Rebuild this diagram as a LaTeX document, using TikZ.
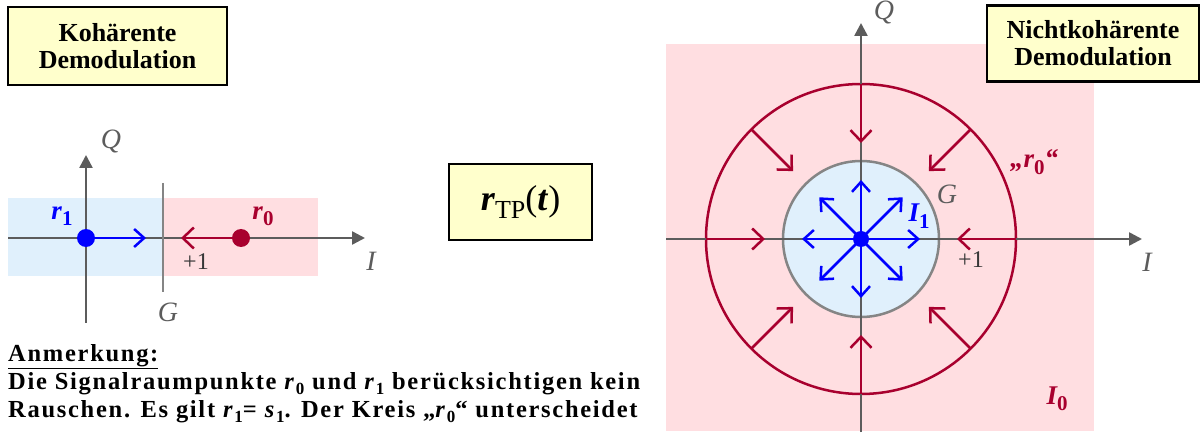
\documentclass[tikz,border=0pt]{standalone}
\usepackage{fontspec}
\setmainfont{Liberation Serif}
\usetikzlibrary{arrows.meta}
\definecolor{rz}{HTML}{A8002E}
\definecolor{bz}{HTML}{0000FF}
\definecolor{ax}{HTML}{5C5C5C}
\definecolor{gz}{HTML}{858585}
\definecolor{pinkbg}{HTML}{FFDEE1}
\definecolor{bluebg}{HTML}{E0F0FC}
\definecolor{titlebg}{HTML}{FFFFCC}
\newcommand{\idx}[2]{\raisebox{-.24em}{\fontsize{#1}{#1}\selectfont\upshape #2}}
\tikzset{
  titlebox/.style={draw=black, line width=2.5pt, fill=titlebg, align=center, inner sep=0pt,
    font=\fontsize{26}{27}\selectfont\bfseries},
  axis/.style={draw=ax, line width=2.5pt, -{Triangle[length=13pt,width=13pt]}},
  border/.style={draw=gz, line width=2.5pt},
  inarr/.style={draw=rz, line width=2.5pt, -{Straight Barb[length=11pt,width=21pt,line width=2.5pt]}},
  outarr/.style={draw=bz, line width=2.5pt, -{Straight Barb[length=10pt,width=18pt,line width=2.5pt]}},
  axlbl/.style={text=ax, font=\fontsize{28}{28}\selectfont\itshape, inner sep=0pt},
  onelbl/.style={text=ax!60!black, font=\fontsize{24}{24}\selectfont, inner sep=0pt},
  ptlbl/.style={font=\fontsize{27}{27}\selectfont\bfseries\itshape, inner sep=0pt},
  notetxt/.style={anchor=base west, inner sep=0pt,
    font=\fontsize{24.5}{28}\selectfont\bfseries\addfontfeatures{LetterSpace=7}},
}
\begin{document}
\begin{tikzpicture}[x=1pt,y=-1pt]
  \useasboundingbox (0,0) rectangle (1201,435);

  % coherent: decision regions on the I axis
  \fill[bluebg] (8,198) rectangle (163,276);
  \fill[pinkbg] (163,198) rectangle (318,276);
  \coordinate (iL0) at (8,238);   \coordinate (iL1) at (365,238);
  \coordinate (qL0) at (86,323);  \coordinate (qL1) at (86,155);
  \coordinate (gL0) at (163,183); \coordinate (gL1) at (163,292);
  \draw[axis] (iL0) -- (iL1);
  \draw[axis] (qL0) -- (qL1);
  \draw[border] (gL0) -- (gL1);
  \coordinate (r1) at (86,238);   \coordinate (r1t) at (146,238);
  \coordinate (r0) at (241,238);  \coordinate (r0t) at (181,238);
  \draw[outarr] (r1) -- (r1t);
  \draw[inarr] (r0) -- (r0t);
  \fill[bz] (r1) circle[radius=9pt];
  \fill[rz] (r0) circle[radius=9pt];
  \node[ptlbl, text=bz] (r1lbl) at (62,216) {r\idx{21}{1}};
  \node[ptlbl, text=rz] (r0lbl) at (263,216) {r\idx{21}{0}};
  \node[onelbl] (oneL) at (196,262) {+1};
  \node[axlbl] (qlbl) at (111,142) {Q};
  \node[axlbl] (ilbl) at (371,261) {I};
  \node[axlbl] (glbl) at (168,312) {G};

  % note
  \node[notetxt] (n0) at (8,361) {\underline{Anmerkung:}};
  \node[notetxt] (n1) at (8,389) {Die Signalraumpunkte \textit{r}\idx{17}{0} und \textit{r}\idx{17}{1} berücksichtigen kein};
  \node[notetxt] (n2) at (8,417) {Rauschen. Es gilt \textit{r}\idx{17}{1}= \textit{s}\idx{17}{1}. Der Kreis „\textit{r}\idx{17}{0}“ unterscheidet};

  % noncoherent: circles around the origin
  \coordinate (c) at (861,239);
  \fill[pinkbg] (666,44) rectangle (1094,431);
  \draw[draw=rz, line width=2.5pt] (c) circle[radius=155pt];
  \draw[border, fill=bluebg] (c) circle[radius=78pt];
  \coordinate (iR0) at (666,239);  \coordinate (iR1) at (1142,239);
  \coordinate (qR0) at (861,432);  \coordinate (qR1) at (861,23);
  \draw[axis] (iR0) -- (iR1);
  \draw[axis] (qR0) -- (qR1);
  \foreach \a in {0,45,...,315}{
    \coordinate (ro\a) at ([shift={(\a:155pt)}]c);
    \coordinate (ri\a) at ([shift={(\a:96pt)}]c);
    \coordinate (bt\a) at ([shift={(\a:59pt)}]c);
    \draw[inarr] (ro\a) -- (ri\a);
    \draw[outarr] (c) -- (bt\a);
  }
  \fill[bz] (c) circle[radius=8pt];
  \node[ptlbl, text=bz] (i1lbl) at (919,216) {I\idx{21}{1}};
  \node[ptlbl, text=rz] (i0lbl) at (1057,399) {I\idx{21}{0}};
  \node[ptlbl, text=rz] (r0c) at (1034,162) {„r\idx{21}{0}“};
  \node[onelbl] (oneR) at (971,260) {+1};
  \node[axlbl] (qlbR) at (884,13) {Q};
  \node[axlbl] (ilbR) at (1147,262) {I};
  \node[axlbl] (glbR) at (947,194) {G};

  % titles
  \node[titlebox, minimum width=219, minimum height=78] (koh) at (117.5,46) {Kohärente\\Demodulation};
  \node[titlebox, minimum width=212, minimum height=76] (nkoh) at (1093,43.5) {Nichtkohärente\\Demodulation};
  \node[titlebox, minimum width=143, minimum height=76, font=\fontsize{36}{36}\selectfont] (rtp) at (520.5,202)
    {\textbf{\textit{r}}\idx{26}{TP}(\textbf{\textit{t}})};
\end{tikzpicture}
\end{document}
